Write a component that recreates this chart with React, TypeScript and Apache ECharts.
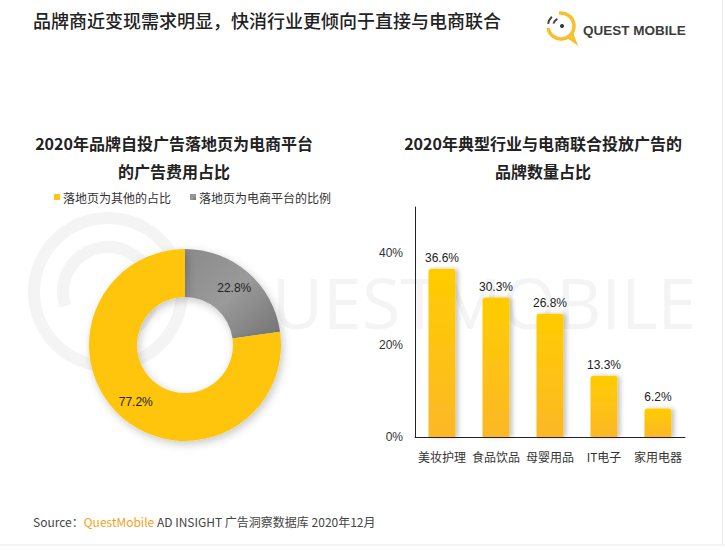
import React, { useEffect, useRef } from "react";
import * as echarts from "echarts";

const mainTitle = "品牌商近变现需求明显，快消行业更倾向于直接与电商联合";
const pieTitle = ["2020年品牌自投广告落地页为电商平台", "的广告费用占比"];
const barTitle = ["2020年典型行业与电商联合投放广告的", "品牌数量占比"];
const pieNames = ["落地页为电商平台的比例", "落地页为其他的占比"];
const pieValues = [22.8, 77.2];
const barCategories = ["美妆护理", "食品饮品", "母婴用品", "IT电子", "家用电器"];
const barValues = [36.6, 30.3, 26.8, 13.3, 6.2];
const yTicks = [0, 20, 40];

const CJK = '"Noto Sans CJK SC", "Noto Sans", "Liberation Sans", sans-serif';
const LAT = '"Liberation Sans", "Noto Sans CJK SC", sans-serif';

export default function App() {
  const ref = useRef<HTMLDivElement>(null);
  useEffect(() => {
    document.body.style.margin = "0";
    const chart = echarts.init(ref.current!, null, { renderer: "svg" });
    const option: any = {
      animation: false,
      backgroundColor: "#ffffff",
      textStyle: { fontFamily: CJK },
      graphic: [
        // watermark
        {
          type: "ring",
          shape: { cx: 108, cy: 292, r: 80, r0: 68 },
          style: { fill: "#f4f4f4" },
          z: -10,
          silent: true,
        },
        {
          type: "arc",
          shape: { cx: 108, cy: 292, r: 45, startAngle: Math.PI * 0.9, endAngle: Math.PI * 2.4 },
          style: { stroke: "#f4f4f4", lineWidth: 12, fill: "none" },
          z: -10,
          silent: true,
        },
        {
          type: "text",
          x: 272,
          y: 302,
          style: {
            text: "UESTMOBILE",
            fontSize: 70,
            fontFamily: '"Open Sans", "Liberation Sans", sans-serif',
            fill: "#f4f4f4",
            verticalAlign: "middle",
            textAlign: "left",
          },
          z: -10,
          silent: true,
        },
        // main title
        {
          type: "text",
          x: 33,
          y: 20,
          style: {
            text: mainTitle,
            fontSize: 18,
            fontWeight: 500,
            fontFamily: CJK,
            fill: "#222222",
            verticalAlign: "middle",
          },
        },
        // logo
        {
          type: "arc",
          shape: { cx: 561, cy: 26, r: 13, startAngle: -Math.PI * 0.55, endAngle: Math.PI * 0.95 },
          style: { stroke: "#F7C12E", lineWidth: 3.5, fill: "none" },
        },
        {
          type: "arc",
          shape: { cx: 561, cy: 26, r: 13, startAngle: Math.PI * 1.05, endAngle: Math.PI * 1.25 },
          style: { stroke: "#444444", lineWidth: 2, fill: "none" },
        },
        {
          type: "arc",
          shape: { cx: 561, cy: 26, r: 8, startAngle: Math.PI * 1.1, endAngle: Math.PI * 1.35 },
          style: { stroke: "#444444", lineWidth: 2, fill: "none" },
        },
        {
          type: "polyline",
          shape: { points: [[568, 37], [575, 42], [572, 34]] },
          style: { stroke: "#F7C12E", lineWidth: 3, fill: "none" },
        },
        {
          type: "circle",
          shape: { cx: 562, cy: 26, r: 2 },
          style: { fill: "#333333" },
        },
        {
          type: "text",
          x: 583,
          y: 30,
          style: {
            text: "QUEST MOBILE",
            fontSize: 13.5,
            fontWeight: "bold",
            fontFamily: LAT,
            fill: "#3c3c3c",
            verticalAlign: "middle",
          },
        },
        // sub titles
        {
          type: "text",
          x: 174,
          y: 143,
          style: {
            text: pieTitle[0],
            fontSize: 16,
            fontWeight: "bold",
            fontFamily: CJK,
            fill: "#222222",
            textAlign: "center",
            verticalAlign: "middle",
          },
        },
        {
          type: "text",
          x: 174,
          y: 171,
          style: {
            text: pieTitle[1],
            fontSize: 16,
            fontWeight: "bold",
            fontFamily: CJK,
            fill: "#222222",
            textAlign: "center",
            verticalAlign: "middle",
          },
        },
        {
          type: "text",
          x: 543,
          y: 143,
          style: {
            text: barTitle[0],
            fontSize: 16,
            fontWeight: "bold",
            fontFamily: CJK,
            fill: "#222222",
            textAlign: "center",
            verticalAlign: "middle",
          },
        },
        {
          type: "text",
          x: 543,
          y: 171,
          style: {
            text: barTitle[1],
            fontSize: 16,
            fontWeight: "bold",
            fontFamily: CJK,
            fill: "#222222",
            textAlign: "center",
            verticalAlign: "middle",
          },
        },
        // source
        {
          type: "text",
          x: 33,
          y: 521,
          style: {
            rich: {
              a: { fontSize: 12, fill: "#444444", fontFamily: CJK },
              b: { fontSize: 12, fill: "#F5A21B", fontFamily: CJK },
            },
            text: "{a|Source：}{b|QuestMobile}{a| AD INSIGHT 广告洞察数据库 2020年12月}",
            verticalAlign: "middle",
          },
        },
        // frame lines
        {
          type: "line",
          shape: { x1: 0, y1: 545, x2: 725, y2: 545 },
          style: { stroke: "#ececec", lineWidth: 1 },
        },
        {
          type: "line",
          shape: { x1: 722.5, y1: 0, x2: 722.5, y2: 545 },
          style: { stroke: "#ececec", lineWidth: 1 },
        },
      ],
      legend: {
        data: [pieNames[1], pieNames[0]],
        left: 49,
        top: 186,
        icon: "rect",
        itemWidth: 6,
        itemHeight: 6,
        itemGap: 19,
        textStyle: { fontSize: 12, color: "#333333", fontFamily: CJK, padding: [0, 0, 0, -2] },
        selectedMode: false,
      },
      grid: {
        left: 415,
        right: 40,
        top: 207,
        bottom: 113,
        containLabel: false,
      },
      xAxis: {
        type: "category",
        data: barCategories,
        axisLine: { show: true, lineStyle: { color: "#222222", width: 1 } },
        axisTick: { show: false },
        axisLabel: { interval: 0, fontSize: 12, color: "#333333", margin: 13, fontFamily: CJK },
      },
      yAxis: {
        type: "value",
        min: 0,
        max: 50,
        interval: 20,
        axisLine: { show: true, lineStyle: { color: "#222222", width: 1 } },
        axisTick: { show: false },
        splitLine: { show: false },
        axisLabel: {
          fontSize: 12,
          color: "#333333",
          margin: 12,
          fontFamily: LAT,
          formatter: (v: number) => (yTicks.includes(v) ? v + "%" : ""),
        },
      },
      series: [
        {
          type: "pie",
          center: [185, 345],
          radius: [48, 96],
          startAngle: 90,
          clockwise: true,
          legendHoverLink: false,
          data: [
            {
              name: pieNames[0],
              value: pieValues[0],
              itemStyle: {
                color: new echarts.graphic.LinearGradient(0, 0, 1, 1, [
                  { offset: 0, color: "#8a8a8a" },
                  { offset: 0.5, color: "#9a9a9a" },
                  { offset: 1, color: "#737373" },
                ]),
              },
            },
            {
              name: pieNames[1],
              value: pieValues[1],
              itemStyle: { color: "#FFC510" },
            },
          ],
          itemStyle: {
            shadowBlur: 8,
            shadowColor: "rgba(0,0,0,0.22)",
            shadowOffsetX: 2,
            shadowOffsetY: 3,
          },
          label: {
            show: true,
            position: "inside",
            formatter: (p: any) => p.value.toFixed(1) + "%",
            fontSize: 12,
            color: "#222222",
            fontFamily: LAT,
          },
          labelLine: { show: false },
        },
        {
          type: "bar",
          data: barValues,
          barWidth: "50%",
          itemStyle: {
            borderRadius: [3, 3, 0, 0],
            color: new echarts.graphic.LinearGradient(0, 0, 0, 1, [
              { offset: 0, color: "#FFCC00" },
              { offset: 1, color: "#FCB827" },
            ]),
            shadowBlur: 4,
            shadowColor: "rgba(0,0,0,0.22)",
            shadowOffsetX: 3,
            shadowOffsetY: 0,
          },
          label: {
            show: true,
            position: "top",
            distance: 5,
            formatter: (p: any) => p.value.toFixed(1) + "%",
            fontSize: 12,
            color: "#222222",
            fontFamily: LAT,
          },
        },
      ],
    };
    chart.setOption(option);
    return () => chart.dispose();
  }, []);
  return (
    <div
      ref={ref}
      style={{ position: "absolute", left: 0, top: 0, width: 725, height: 550 }}
    />
  );
}
